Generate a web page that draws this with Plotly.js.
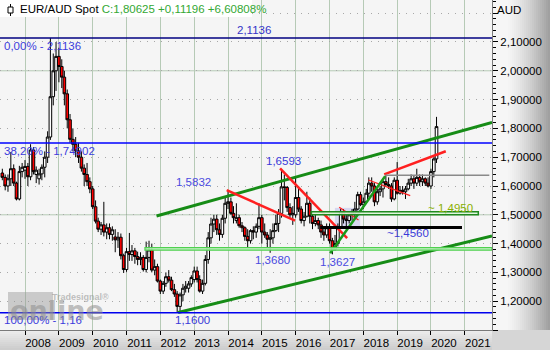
<!DOCTYPE html>
<html>
<head>
<meta charset="utf-8">
<script src="https://cdn.plot.ly/plotly-3.0.1.min.js"></script>
<style>html,body{margin:0;padding:0;background:#f4f4f4;}#chart{width:550px;height:350px;}</style>
</head>
<body>
<div id="chart"></div>
<script>
// ---- monthly EUR/AUD candles, first month 2007-05 ----
const firstYear = 2007, firstMonth = 5;
const open = [
  1.645,1.630,1.600,1.625,1.660,1.610,1.555,1.650,
  1.655,1.668,1.632,1.725,1.640,1.625,1.642,1.665,1.700,1.770,1.910,2.000,
  2.050,2.015,1.978,1.920,1.830,1.762,1.745,1.722,1.700,1.662,1.640,1.615,
  1.590,1.528,1.478,1.450,1.465,1.440,1.455,1.432,1.423,1.413,1.422,1.358,
  1.310,1.372,1.362,1.375,1.355,1.345,1.352,1.310,1.352,1.378,1.308,1.320,
  1.270,1.235,1.262,1.285,1.273,1.240,1.225,1.182,1.222,1.245,1.245,1.260,
  1.275,1.305,1.275,1.235,1.262,1.345,1.420,1.468,1.485,1.448,1.432,1.488,
  1.540,1.545,1.505,1.480,1.490,1.462,1.455,1.425,1.410,1.445,1.440,1.460,
  1.490,1.440,1.430,1.415,1.420,1.445,1.470,1.505,1.597,1.595,1.525,1.500,
  1.500,1.560,1.520,1.480,1.495,1.540,1.495,1.470,1.480,1.465,1.440,1.430,
  1.455,1.410,1.380,1.400,1.455,1.510,1.485,1.480,1.500,1.505,1.520,1.570,
  1.535,1.545,1.575,1.610,1.600,1.545,1.580,1.590,1.615,1.605,1.600,1.555,
  1.620,1.575,1.585,1.580,1.590,1.610,1.625,1.610,1.630,1.615,1.625,1.610,
  1.600,1.650,1.694];
const high = [
  1.660,1.640,1.640,1.718,1.675,1.615,1.670,1.680,
  1.690,1.680,1.745,1.735,1.668,1.660,1.675,1.720,1.790,2.1136,2.060,2.100,
  2.080,2.040,2.000,1.935,1.850,1.800,1.770,1.750,1.720,1.675,1.680,1.630,
  1.600,1.550,1.490,1.475,1.545,1.470,1.470,1.460,1.450,1.440,1.435,1.365,
  1.385,1.437,1.395,1.385,1.372,1.370,1.360,1.407,1.410,1.400,1.345,1.330,
  1.275,1.270,1.300,1.308,1.285,1.260,1.235,1.230,1.260,1.270,1.270,1.290,
  1.320,1.320,1.290,1.275,1.360,1.440,1.490,1.500,1.500,1.470,1.500,1.560,
  1.5832,1.560,1.530,1.540,1.500,1.475,1.460,1.450,1.450,1.460,1.470,1.540,
  1.500,1.470,1.440,1.450,1.470,1.500,1.520,1.6593,1.640,1.600,1.540,1.530,
  1.630,1.600,1.530,1.510,1.580,1.560,1.510,1.500,1.490,1.480,1.460,1.470,
  1.470,1.420,1.430,1.470,1.520,1.520,1.500,1.510,1.520,1.545,1.580,1.580,
  1.560,1.590,1.630,1.630,1.610,1.590,1.600,1.625,1.640,1.630,1.610,1.630,
  1.683,1.600,1.600,1.600,1.625,1.640,1.635,1.660,1.640,1.640,1.630,1.630,
  1.660,1.700,1.840];
const low = [
  1.620,1.585,1.580,1.600,1.600,1.550,1.550,1.630,
  1.625,1.600,1.620,1.640,1.610,1.605,1.620,1.630,1.680,1.760,1.880,1.930,
  1.960,1.940,1.880,1.800,1.750,1.720,1.700,1.680,1.650,1.600,1.600,1.575,
  1.520,1.470,1.440,1.430,1.425,1.415,1.415,1.410,1.370,1.385,1.345,1.298,
  1.302,1.340,1.340,1.330,1.325,1.325,1.303,1.300,1.335,1.300,1.290,1.265,
  1.225,1.225,1.250,1.265,1.235,1.215,1.160,1.165,1.200,1.230,1.230,1.250,
  1.265,1.265,1.230,1.225,1.255,1.330,1.400,1.440,1.430,1.410,1.420,1.470,
  1.520,1.500,1.470,1.470,1.455,1.440,1.410,1.388,1.400,1.415,1.420,1.450,
  1.400,1.420,1.385,1.368,1.400,1.440,1.440,1.490,1.550,1.510,1.490,1.465,
  1.490,1.510,1.470,1.460,1.490,1.470,1.450,1.460,1.450,1.420,1.410,1.420,
  1.400,1.3627,1.375,1.390,1.450,1.470,1.460,1.470,1.480,1.490,1.515,1.530,
  1.520,1.540,1.560,1.580,1.530,1.535,1.565,1.560,1.600,1.590,1.545,1.550,
  1.570,1.570,1.570,1.555,1.585,1.600,1.590,1.600,1.600,1.600,1.600,1.595,
  1.590,1.630,1.680];
const close = [
  1.630,1.600,1.625,1.660,1.610,1.555,1.650,1.665,
  1.668,1.632,1.725,1.650,1.655,1.642,1.665,1.700,1.770,1.910,2.000,2.050,
  2.015,1.978,1.920,1.830,1.762,1.745,1.722,1.700,1.662,1.640,1.615,1.590,
  1.528,1.478,1.450,1.465,1.440,1.455,1.432,1.448,1.413,1.422,1.358,1.310,
  1.372,1.362,1.375,1.355,1.345,1.352,1.310,1.352,1.378,1.308,1.320,1.270,
  1.235,1.262,1.285,1.273,1.240,1.225,1.182,1.222,1.245,1.252,1.260,1.282,
  1.305,1.275,1.235,1.262,1.345,1.420,1.468,1.485,1.448,1.432,1.488,1.540,
  1.545,1.505,1.490,1.490,1.462,1.455,1.425,1.410,1.445,1.440,1.460,1.490,
  1.440,1.430,1.415,1.420,1.445,1.470,1.505,1.597,1.595,1.525,1.500,1.505,
  1.560,1.520,1.480,1.495,1.540,1.495,1.470,1.480,1.465,1.440,1.430,1.455,
  1.410,1.380,1.400,1.455,1.510,1.485,1.480,1.500,1.505,1.520,1.570,1.535,
  1.545,1.575,1.610,1.600,1.545,1.580,1.590,1.615,1.605,1.600,1.555,1.620,
  1.575,1.585,1.580,1.590,1.610,1.625,1.610,1.630,1.615,1.625,1.610,1.600,
  1.650,1.694,1.80625];

const yearTicks = ['2008','2009','2010','2011','2012','2013','2014','2015','2016','2017','2018','2019','2020','2021'];
// price axis: grid values and their labels (outer ones unlabelled)
const priceTickVals = [1.1,1.2,1.3,1.4,1.5,1.6,1.7,1.8,1.9,2.0,2.1,2.2];
const priceTickText = ['','1,20000','1,30000','1,40000','1,50000','1,60000','1,70000','1,80000','1,90000','2,00000','2,10000',''];

// Fibonacci levels
const fibLevels = [2.1136, 1.74902, 1.16];
const fibColors = ['#000080', '#0000ff', '#0000ee'];
const fibLabels = ['0,00% - 2,1136', '38,20% - 1,74902', '100,00% - 1,16'];

// trend lines (start/end)
const upperChannelX = ['2011-11-21', '2021-10-21'], upperChannelY = [1.496, 1.821];
const lowerChannelX = ['2012-07-11', '2021-10-21'], lowerChannelY = [1.1608, 1.4264];
const redAX = ['2013-12-18', '2015-12-26'], redAY = [1.586, 1.4795];
const redBX = ['2015-07-17', '2017-07-10'], redBY = [1.6615, 1.4194];
const redCX = ['2018-08-14', '2020-06-09'], redCY = [1.6406, 1.7205];
const redDX = ['2018-02-25', '2019-05-22'], redDY = [1.6208, 1.5663];
const redEX = ['2017-04-15', '2017-11-10'], redEY = [1.526, 1.482];
const greenGX = ['2017-01-08', '2018-08-24'], greenGY = [1.3663, 1.634];
const blackLineX = ['2016-09-22', '2020-12-01'], blackLineY = [1.456, 1.456];
const grayLineX = ['2018-08-24', '2021-09-22'], grayLineY = [1.637, 1.637];
// zones
const zone1495X = ['2016-06-17', '2021-05-26'], zone1495Y = [1.500, 1.511];
const zone138X = ['2011-07-19', '2021-10-21'], zone138Y = [1.377, 1.386];
const flagBoxX = ['2017-02-28', '2017-11-28'], flagBoxY = [1.454, 1.524];

// price labels
const priceLabels = [
  {t:'2,1136', x:'2014-10-10', y:2.1417, c:'#3434c8'},
  {t:'1,1600', x:'2012-12-09', y:1.1347, c:'#3a3ad8'},
  {t:'1,5832', x:'2012-12-25', y:1.6139, c:'#4a4ae0'},
  {t:'1,6593', x:'2015-08-18', y:1.688, c:'#3a3ad8'},
  {t:'1,3680', x:'2015-04-27', y:1.343, c:'#4a4ae0'},
  {t:'1,3627', x:'2017-03-30', y:1.336, c:'#4a4ae0'},
  {t:'~1,4560', x:'2019-05-01', y:1.4368, c:'#3a3ad8'},
  {t:'~ 1,4950', x:'2020-07-27', y:1.5236, c:'#8ab000'}
];

// ---- build ----
const dates = [];
for (let i = 0; i < open.length; i++) {
  const m = firstMonth - 1 + i;
  const y = firstYear + Math.floor(m / 12);
  const mm = (m % 12) + 1;
  dates.push(y + '-' + String(mm).padStart(2, '0') + '-01');
}
const FONT = 'Liberation Sans, Arial, sans-serif';
const PW = 492, PH = 330;

function line(x, y, color, width) {
  return {type:'scatter', mode:'lines', x:x, y:y, line:{color:color, width:width},
          hoverinfo:'skip', showlegend:false};
}

const traces = [
  {type:'candlestick', x:dates, open:open, high:high, low:low, close:close,
   increasing:{line:{color:'#000000', width:1}, fillcolor:'#ffffff'},
   decreasing:{line:{color:'#000000', width:1}, fillcolor:'#ff0000'},
   whiskerwidth:0, hoverinfo:'skip', showlegend:false},
  line(upperChannelX, upperChannelY, '#168c16', 3),
  line(lowerChannelX, lowerChannelY, '#168c16', 3),
  line(redAX, redAY, '#ff2020', 2.5),
  line(redBX, redBY, '#ff2020', 2.5),
  line(redCX, redCY, '#ff2020', 2.5),
  line(redDX, redDY, '#ff2020', 1.3),
  line(redEX, redEY, '#ff2020', 1.3),
  line(greenGX, greenGY, '#1a9a1a', 2.5),
  line(blackLineX, blackLineY, '#000000', 3),
  line(grayLineX, grayLineY, '#8a8a8a', 1.5)
];

const shapes = [];
// axis strips (gradient approximation)
const rightSteps = 29;
for (let i = 0; i < rightSteps; i++) {
  const px0 = PW + i * 2, px1 = px0 + 2;
  const f = Math.max(0, (px0 - 505) / 45);
  const g = Math.round(246 - Math.pow(f, 1.4) * 92);
  shapes.push({type:'rect', xref:'paper', yref:'paper', x0:px0/PW, x1:px1/PW, y0:-20/PH, y1:1.01,
    fillcolor:'rgb('+g+','+g+','+g+')', line:{width:0}, layer:'below'});
}
for (let i = 0; i < 10; i++) {
  const g = Math.round(236 - i * 3.5);
  shapes.push({type:'rect', xref:'paper', yref:'paper', x0:0, x1:1, y0:-(i+1)*2/PH, y1:-i*2/PH,
    fillcolor:'rgb('+g+','+g+','+g+')', line:{width:0}, layer:'below'});
}
shapes.push({type:'rect', xref:'paper', yref:'paper', x0:1, x1:550/PW, y0:-20/PH, y1:0,
  fillcolor:'#d6d6d6', line:{width:0}, layer:'below'});
// solid horizontal grid
[2.0, 1.5].forEach(v => shapes.push({type:'line', xref:'paper', yref:'y', x0:0, x1:1, y0:v, y1:v,
  line:{color:'#b6cab6', width:1}, layer:'below'}));
// flag box
shapes.push({type:'rect', xref:'x', yref:'y', x0:flagBoxX[0], x1:flagBoxX[1], y0:flagBoxY[0], y1:flagBoxY[1],
  fillcolor:'rgba(190,190,235,0.55)', line:{width:0}, layer:'below'});
// fib lines
fibLevels.forEach((v, i) => shapes.push({type:'line', xref:'paper', yref:'y', x0:0, x1:1, y0:v, y1:v,
  line:{color:fibColors[i], width:1.5}, layer:'above'}));
// zones
shapes.push({type:'rect', xref:'x', yref:'y', x0:zone138X[0], x1:zone138X[1], y0:zone138Y[0], y1:zone138Y[1],
  fillcolor:'rgba(200,245,200,0.9)', line:{color:'#4fd04f', width:1.2}, layer:'above'});
shapes.push({type:'rect', xref:'x', yref:'y', x0:zone1495X[0], x1:zone1495X[1], y0:zone1495Y[0], y1:zone1495Y[1],
  fillcolor:'rgba(225,245,220,0.9)', line:{color:'#1f8a1f', width:1.5}, layer:'above'});
// header box + icon
shapes.push({type:'rect', xref:'paper', yref:'paper', x0:0, x1:252/PW, y0:1-17/PH, y1:1,
  fillcolor:'#ffffff', line:{width:0}, layer:'above'});
shapes.push({type:'line', xref:'paper', yref:'paper', x0:10.5/PW, x1:10.5/PW, y0:1-16/PH, y1:1-4/PH,
  line:{color:'#000', width:1}, layer:'above'});
shapes.push({type:'rect', xref:'paper', yref:'paper', x0:8/PW, x1:13/PW, y0:1-13/PH, y1:1-7/PH,
  fillcolor:'#ffffff', line:{color:'#000', width:1}, layer:'above'});
// watermark box
shapes.push({type:'rect', xref:'paper', yref:'paper', x0:8/PW, x1:53/PW, y0:1-320/PH, y1:1-292/PH,
  fillcolor:'rgba(150,150,150,0.45)', line:{width:0}, layer:'above'});

const annotations = [];
annotations.push({xref:'paper', yref:'paper', x:18/PW, y:1-9/PH, xanchor:'left', yanchor:'middle',
  text:'EUR/AUD Spot <span style="color:#33a833">C:1,80625 +0,11196 +6,60808%</span>',
  showarrow:false, font:{family:FONT, size:11.5, color:'#000'}});
annotations.push({xref:'paper', yref:'paper', x:495/PW, y:1-10/PH, xanchor:'left', yanchor:'middle',
  text:'AUD', showarrow:false, font:{family:FONT, size:11.5, color:'#000'}});
const fibLabelY = [2.086, 1.7215, 1.1347];
fibLabels.forEach((t, i) => annotations.push({xref:'paper', yref:'y', x:2/PW, y:fibLabelY[i],
  xanchor:'left', yanchor:'middle', text:t, showarrow:false, font:{family:FONT, size:11.5, color:'#3c3cdc'}}));
priceLabels.forEach(p => annotations.push({xref:'x', yref:'y', x:p.x, y:p.y, xanchor:'center', yanchor:'middle',
  text:p.t, showarrow:false, font:{family:FONT, size:11.5, color:p.c}}));
annotations.push({xref:'paper', yref:'paper', x:50/PW, y:1-297/PH, xanchor:'left', yanchor:'middle',
  text:'<b>Tradesignal®</b>', showarrow:false, font:{family:FONT, size:9, color:'rgba(150,150,150,0.6)'}});
annotations.push({xref:'paper', yref:'paper', x:8/PW, y:1-310/PH, xanchor:'left', yanchor:'middle',
  text:'<b>online</b>', showarrow:false, font:{family:'DejaVu Sans, sans-serif', size:27, color:'rgba(140,140,140,0.55)'}});

const layout = {
  width:550, height:350,
  margin:{l:0, r:550-PW, t:0, b:20, pad:0, autoexpand:false},
  paper_bgcolor:'#f4f4f4', plot_bgcolor:'#f5f5f5',
  separators:',.',
  showlegend:false, hovermode:false,
  boxgap:0, boxgroupgap:0,
  xaxis:{type:'date', range:['2007-04-06','2021-10-21'], rangeslider:{visible:false},
    tickvals:yearTicks.map(y => y + '-01-01'), ticktext:yearTicks,
    showgrid:true, gridcolor:'#b6cab6', gridwidth:1,
    ticks:'outside', ticklen:4, tickcolor:'#000', ticklabelshift:13, ticklabelstandoff:-2,
    tickfont:{family:FONT, size:11.5, color:'#000'},
    showline:true, linecolor:'#7a7a7a', linewidth:1, mirror:true, zeroline:false, fixedrange:true},
  yaxis:{side:'right', range:[1.10, 2.2458], tickmode:'array', tickvals:priceTickVals, ticktext:priceTickText,
    showgrid:true, gridcolor:'#a8a8a8', griddash:'1px,6px', gridwidth:1,
    ticks:'outside', ticklen:5, tickcolor:'#000',
    minor:{tickmode:'linear', tick0:1.0, dtick:0.02, ticks:'outside', ticklen:3, tickcolor:'#000', showgrid:false},
    tickfont:{family:FONT, size:11.5, color:'#000'},
    showline:true, linecolor:'#7a7a7a', linewidth:1, mirror:true, zeroline:false, fixedrange:true},
  shapes:shapes, annotations:annotations
};

Plotly.newPlot('chart', traces, layout, {staticPlot:true, displayModeBar:false});
</script>
</body>
</html>
